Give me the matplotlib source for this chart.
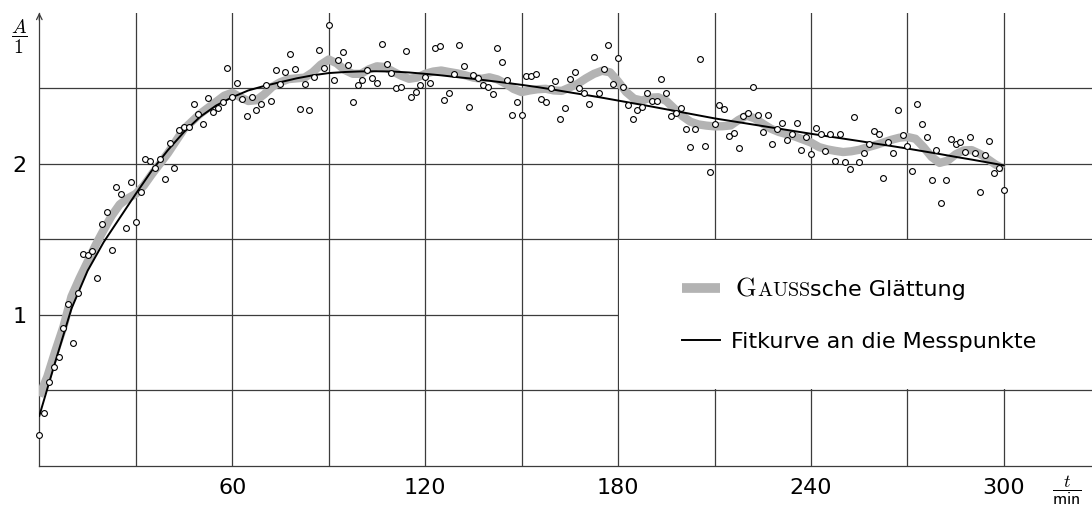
import numpy as np
import matplotlib
matplotlib.use("Agg")
import matplotlib.pyplot as plt
from matplotlib.patches import Rectangle

plt.rcParams["mathtext.fontset"] = "cm"

# Messpunkte: alle 1.5 min
t_mess = np.arange(201) * 1.5
a_mess = [
    0.203, 0.347, 0.556, 0.656, 0.720, 0.912, 1.069, 0.810, 1.144, 1.400,
    1.395, 1.420, 1.245, 1.599, 1.680, 1.430, 1.848, 1.797, 1.576, 1.879,
    1.616, 1.810, 2.033, 2.020, 1.970, 2.033, 1.897, 2.135, 1.974, 2.223,
    2.241, 2.245, 2.395, 2.327, 2.261, 2.435, 2.344, 2.371, 2.407, 2.632,
    2.440, 2.532, 2.428, 2.318, 2.440, 2.354, 2.393, 2.519, 2.417, 2.623,
    2.526, 2.606, 2.729, 2.625, 2.360, 2.530, 2.353, 2.574, 2.751, 2.636,
    2.918, 2.554, 2.689, 2.742, 2.652, 2.407, 2.523, 2.552, 2.623, 2.570,
    2.537, 2.795, 2.660, 2.603, 2.503, 2.506, 2.744, 2.440, 2.475, 2.521,
    2.574, 2.537, 2.766, 2.779, 2.420, 2.470, 2.596, 2.784, 2.645, 2.373,
    2.589, 2.570, 2.519, 2.506, 2.464, 2.768, 2.672, 2.556, 2.320, 2.407,
    2.323, 2.581, 2.579, 2.596, 2.428, 2.407, 2.503, 2.546, 2.296, 2.369,
    2.559, 2.607, 2.503, 2.466, 2.395, 2.707, 2.466, 2.625, 2.784, 2.528,
    2.702, 2.506, 2.391, 2.294, 2.358, 2.378, 2.466, 2.414, 2.414, 2.561,
    2.468, 2.316, 2.334, 2.372, 2.230, 2.113, 2.232, 2.693, 2.119, 1.945,
    2.265, 2.387, 2.360, 2.183, 2.203, 2.106, 2.318, 2.338, 2.506, 2.325,
    2.208, 2.325, 2.132, 2.230, 2.268, 2.155, 2.197, 2.272, 2.093, 2.179,
    2.062, 2.238, 2.197, 2.086, 2.197, 2.016, 2.199, 2.013, 1.967, 2.307,
    2.013, 2.071, 2.130, 2.214, 2.197, 1.903, 2.146, 2.073, 2.354, 2.190,
    2.117, 1.952, 2.393, 2.263, 2.179, 1.892, 2.089, 1.738, 1.892, 2.166,
    2.132, 2.144, 2.075, 2.175, 2.073, 1.811, 2.056, 2.148, 1.940, 1.974,
    1.826,
]

t_gauss = np.arange(121) * 2.5
a_gauss = [
    0.46, 0.59, 0.76, 0.92, 1.12, 1.24, 1.35, 1.46, 1.56, 1.655,
    1.73, 1.77, 1.80, 1.855, 1.93, 2.00, 2.07, 2.15, 2.23, 2.28,
    2.33, 2.37, 2.41, 2.45, 2.47, 2.44, 2.415, 2.42, 2.46, 2.51,
    2.54, 2.56, 2.565, 2.57, 2.605, 2.655, 2.69, 2.665, 2.62, 2.595,
    2.595, 2.625, 2.645, 2.64, 2.61, 2.583, 2.562, 2.57, 2.595, 2.61,
    2.617, 2.607, 2.598, 2.585, 2.57, 2.562, 2.572, 2.558, 2.53, 2.495,
    2.474, 2.485, 2.493, 2.496, 2.485, 2.482, 2.505, 2.53, 2.565, 2.595,
    2.615, 2.605, 2.545, 2.475, 2.43, 2.418, 2.437, 2.44, 2.415, 2.365,
    2.315, 2.278, 2.26, 2.252, 2.247, 2.248, 2.253, 2.29, 2.318, 2.30,
    2.265, 2.232, 2.21, 2.195, 2.18, 2.16, 2.14, 2.11, 2.095, 2.085,
    2.077, 2.082, 2.092, 2.108, 2.123, 2.14, 2.158, 2.172, 2.177, 2.165,
    2.11, 2.045, 2.005, 2.02, 2.062, 2.088, 2.09, 2.065, 2.03, 1.993,
    1.967,
]

t_fit = np.arange(61) * 5.0
a_fit = [
    0.33, 0.69, 1.04, 1.29, 1.48, 1.64, 1.80, 1.955, 2.09, 2.21,
    2.31, 2.385, 2.44, 2.485, 2.515, 2.54, 2.565, 2.585, 2.600, 2.607,
    2.611, 2.612, 2.610, 2.604, 2.595, 2.585, 2.573, 2.562, 2.549, 2.536,
    2.522, 2.507, 2.490, 2.472, 2.455, 2.437, 2.418, 2.399, 2.380, 2.360,
    2.340, 2.320, 2.300, 2.283, 2.266, 2.249, 2.232, 2.215, 2.198, 2.182,
    2.166, 2.150, 2.133, 2.117, 2.100, 2.082, 2.064, 2.045, 2.027, 2.008,
    1.989,
]

x_grid = [30, 60, 90, 120, 150, 180, 210, 240, 270, 300]
y_grid = [0.5, 1.0, 1.5, 2.0, 2.5]
x_ticks = [60, 120, 180, 240, 300]
y_ticks = [1, 2]

grau = "#b3b3b3"
gitter = "#3c3c3c"

fig = plt.figure(figsize=(10.92, 5.07), dpi=100)
ax = fig.add_axes([0.036, 0.0815, 0.964, 0.8935])
ax.set_xlim(0, 327.4)
ax.set_ylim(0, 3.0)

for xg in x_grid:
    ax.axvline(xg, color=gitter, lw=0.9, zorder=1)
for yg in y_grid:
    ax.axhline(yg, color=gitter, lw=0.9, zorder=1)

# Legendenfeld deckt das Gitter ab
ax.add_patch(Rectangle((180.3, 0.505), 200, 0.99, facecolor="white",
                       edgecolor="none", zorder=2))

ax.plot(t_gauss, a_gauss, color=grau, lw=6.0, solid_capstyle="butt",
        solid_joinstyle="round", zorder=3)
ax.plot(t_fit, a_fit, color="black", lw=1.4, zorder=4)
ax.plot(t_mess, a_mess, "o", ms=4.2, mfc="white", mec="black", mew=0.8,
        zorder=5, clip_on=False)

for s in ["top", "right"]:
    ax.spines[s].set_visible(False)
for s in ["left", "bottom"]:
    ax.spines[s].set_color(gitter)
    ax.spines[s].set_linewidth(0.9)
ax.annotate("", xy=(0, 3.0), xytext=(0, 2.95),
            arrowprops=dict(arrowstyle="->", lw=0.9, color=gitter,
                            shrinkA=0, shrinkB=0), annotation_clip=False)

ax.set_xticks(x_ticks)
ax.set_yticks(y_ticks)
ax.set_xticklabels([str(v) for v in x_ticks])
ax.set_yticklabels([str(v) for v in y_ticks])
ax.tick_params(length=0, labelsize=16, pad=9)
for lab in ax.get_xticklabels() + ax.get_yticklabels():
    lab.set_family("DejaVu Sans")

fig.text(19 / 1092, 1 - 37 / 507, r"$\dfrac{A}{1}$", fontsize=14,
         ha="center", va="center")
fig.text(1067 / 1092, 1 - 490 / 507, r"$\dfrac{t}{\mathsf{min}}$",
         fontsize=13, ha="center", va="center")

# Legende
ax.plot([199.9, 211.7], [1.177, 1.177], color=grau, lw=7, solid_capstyle="butt",
        zorder=6)
ax.plot([199.9, 211.7], [0.832, 0.832], color="black", lw=1.4, zorder=6)
g1 = ax.text(216.4, 1.126, r"$\mathrm{G}$", fontsize=19, ha="left",
             va="baseline", zorder=6)
g2 = ax.annotate(r"$\mathrm{AUSS}$", xy=(1, 1.126),
                 xycoords=(g1, ax.transData), fontsize=14.5, ha="left",
                 va="baseline", zorder=6)
ax.annotate("sche Glättung", xy=(1, 1.126), xycoords=(g2, ax.transData),
            fontsize=16, family="DejaVu Sans", ha="left", va="baseline",
            zorder=6)
ax.text(215.1, 0.777, "Fitkurve an die Messpunkte", fontsize=16,
        family="DejaVu Sans", ha="left", va="baseline", zorder=6)

fig.savefig("out.png", dpi=100)
